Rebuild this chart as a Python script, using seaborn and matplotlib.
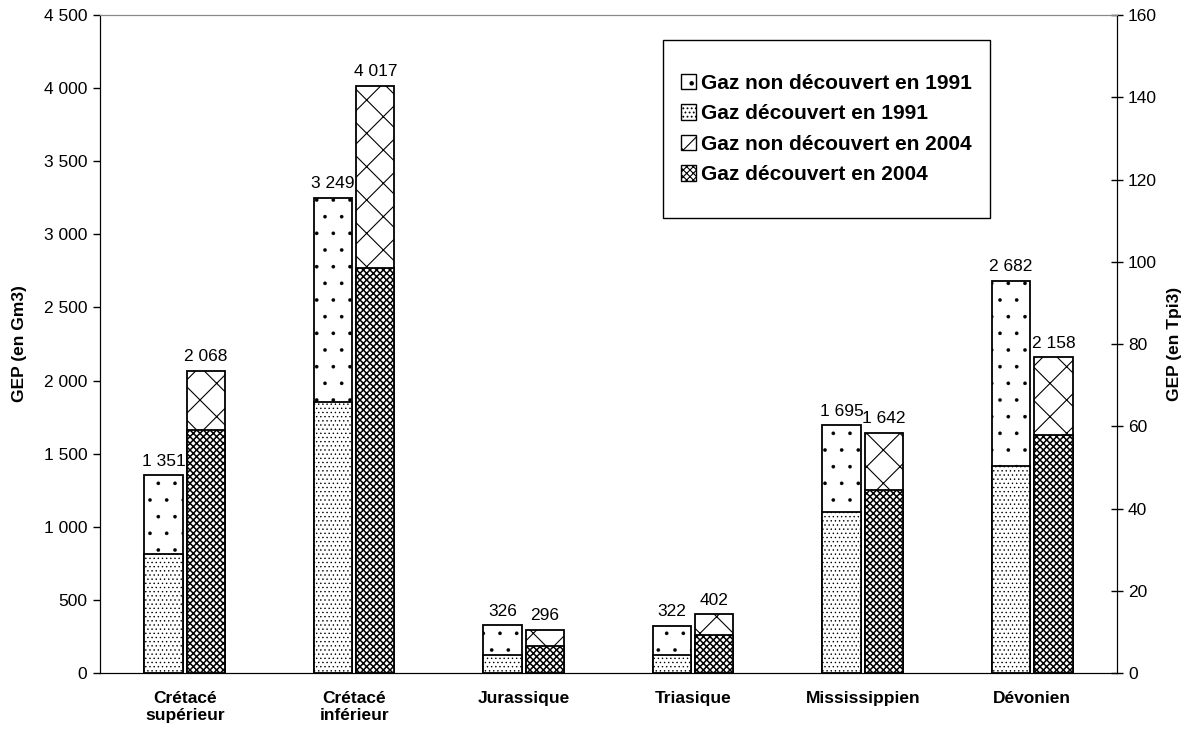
import numpy as np
import pandas as pd
import seaborn as sns
import matplotlib.pyplot as plt
from matplotlib.patches import Patch, Rectangle
from matplotlib.ticker import FuncFormatter

periods = ['Crétacé\nsupérieur', 'Crétacé\ninférieur', 'Jurassique', 'Triasique', 'Mississippien', 'Dévonien']
total_1991 = [1351, 3249, 326, 322, 1695, 2682]
total_2004 = [2068, 4017, 296, 402, 1642, 2158]
disc_1991 = [815, 1855, 123, 123, 1100, 1415]
disc_2004 = [1660, 2770, 185, 260, 1250, 1630]

sns.set_style('white')
plt.rcParams['font.family'] = ['Liberation Sans', 'DejaVu Sans']
plt.rcParams['hatch.linewidth'] = 0.8
plt.rcParams['text.color'] = 'black'
plt.rcParams['axes.labelcolor'] = 'black'
plt.rcParams['xtick.color'] = 'black'
plt.rcParams['ytick.color'] = 'black'

df_tot = pd.DataFrame({'periode': periods * 2,
                       'annee': ['1991'] * 6 + ['2004'] * 6,
                       'gep': total_1991 + total_2004})
df_disc = pd.DataFrame({'periode': periods * 2,
                        'annee': ['1991'] * 6 + ['2004'] * 6,
                        'gep': disc_1991 + disc_2004})

fig = plt.figure(figsize=(11.93, 7.29), dpi=100)
ax = fig.add_axes([0.0838, 0.0768, 0.8525, 0.9026])

# total bars first, discovered part drawn over them
sns.barplot(data=df_tot, x='periode', y='gep', hue='annee', ax=ax, width=0.5, gap=0.1,
            palette=['white', 'white'], edgecolor='black', linewidth=1.3, legend=False)
n_tot = len(ax.patches)
sns.barplot(data=df_disc, x='periode', y='gep', hue='annee', ax=ax, width=0.5, gap=0.1,
            palette=['white', 'white'], edgecolor='black', linewidth=1.3, legend=False)

# order of patches: total 1991, total 2004, discovered 1991, discovered 2004
bars = ax.patches
hatch_list = ['.', 'x', '....', 'xxxxx']
hatch_lw = [0.2, 0.8, 0.5, 1.1]
for i, p in enumerate(bars):
    k = i // 6
    p.set_hatch(hatch_list[k])
    p.set_hatch_linewidth(hatch_lw[k])
    p.set_zorder(2 if i < n_tot else 3)

# value labels on top of totals
for i in range(n_tot):
    p = bars[i]
    val = (total_1991 + total_2004)[i]
    ax.text(p.get_x() + p.get_width() / 2, p.get_height() + 45, f'{val:,}'.replace(',', ' '),
            ha='center', va='bottom', fontsize=12.5)

ax.set_ylim(0, 4500)
ax.set_xlim(-0.5, 5.5)
ax.set_yticks(np.arange(0, 4501, 500))
ax.yaxis.set_major_formatter(FuncFormatter(lambda v, _: f'{int(v):,}'.replace(',', ' ')))
ax.tick_params(axis='y', direction='out', length=5, labelsize=12.5, left=True, width=1, pad=4)
ax.tick_params(axis='x', length=0, labelsize=12.5, pad=13)
for lab in ax.get_xticklabels():
    lab.set_fontweight('bold')
ax.set_xlabel('')
ax.set_ylabel('GEP (en Gm3)', fontweight='bold', fontsize=12.5, labelpad=12)

ax2 = ax.twinx()
ax2.set_ylim(0, 160)
ax2.set_yticks(np.arange(0, 161, 20))
ax2.tick_params(axis='y', direction='inout', length=8, labelsize=12.5, right=True, width=1, pad=4)
ax2.set_ylabel('GEP (en Tpi3)', fontweight='bold', fontsize=12.5, labelpad=7)

for a in (ax, ax2):
    a.spines['top'].set_color('#888888')
    a.spines['left'].set_color('black')
    a.spines['right'].set_color('black')
    a.spines['bottom'].set_color('black')

# legend: frame drawn separately (tall box, text in the middle)
box_x, box_y, box_w, box_h = 0.5536, 0.6915, 0.3215, 0.2705
ax2.add_patch(Rectangle((box_x, box_y), box_w, box_h, transform=ax2.transAxes,
                        facecolor='white', edgecolor='black', linewidth=1, zorder=4))
labels = ['Gaz non découvert en 1991', 'Gaz découvert en 1991',
          'Gaz non découvert en 2004', 'Gaz découvert en 2004']
order = [0, 2, 1, 3]
handles = []
for k, lab in zip(order, labels):
    pt = Patch(facecolor='white', edgecolor='black', hatch=hatch_list[k], label=lab)
    pt.set_hatch_linewidth(hatch_lw[k])
    handles.append(pt)
leg = ax2.legend(handles=handles, loc='center',
                 bbox_to_anchor=(box_x + box_w / 2, box_y + box_h / 2),
                 prop={'weight': 'bold', 'size': 15}, frameon=False,
                 handlelength=0.75, handleheight=0.75, handletextpad=0.25, labelspacing=0.55,
                 borderpad=0, borderaxespad=0)
leg.set_zorder(5)

fig.savefig('out.png', dpi=100)
